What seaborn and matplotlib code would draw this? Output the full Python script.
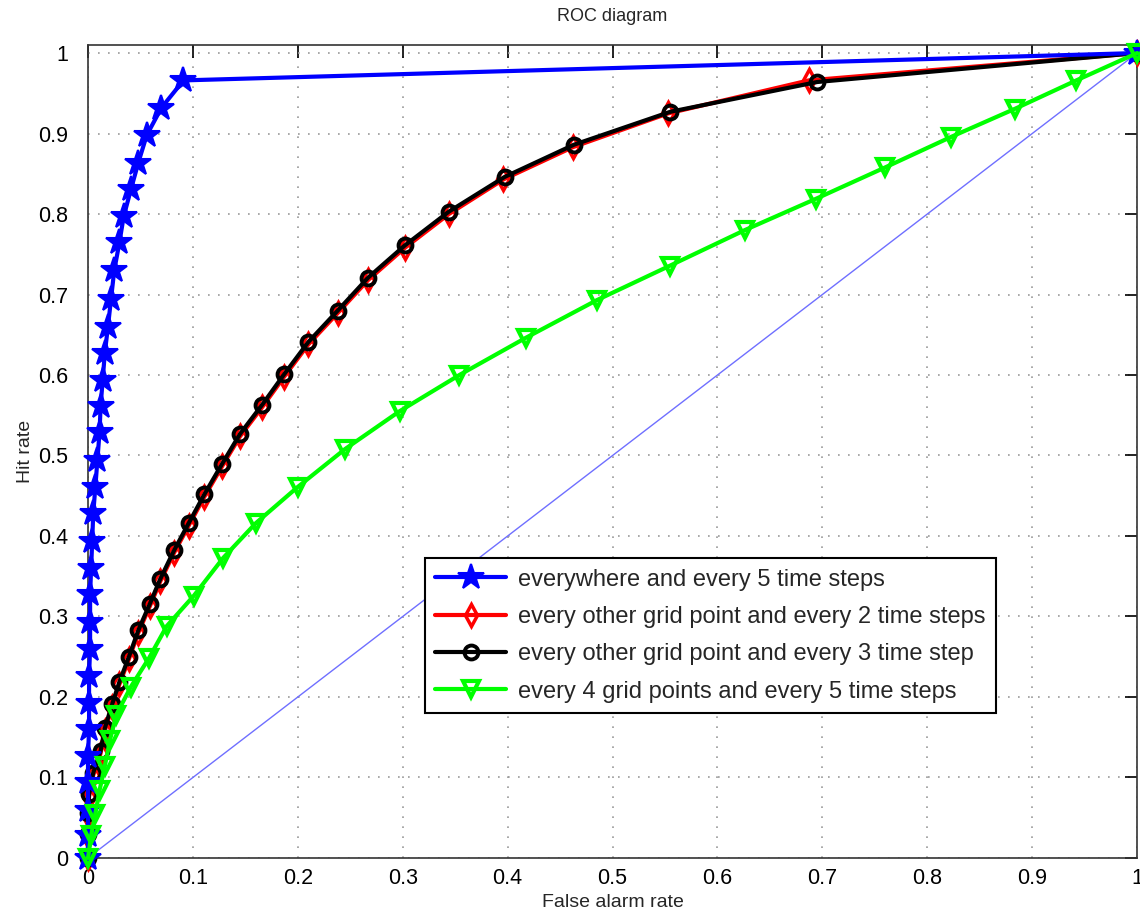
import matplotlib
matplotlib.use("Agg")
import matplotlib.pyplot as plt
import seaborn as sns
import numpy as np
import pandas as pd

# ---- data ----
blue_x = [0.0, 0.0, 0.0, 0.0, 0.0, 0.001, 0.001, 0.001, 0.002, 0.002, 0.002, 0.003,
          0.004, 0.005, 0.007, 0.009, 0.011, 0.012, 0.014, 0.016, 0.019, 0.022, 0.025,
          0.030, 0.034, 0.041, 0.048, 0.056, 0.070, 0.091, 1.0]
blue_y = [0.0, 0.029, 0.060, 0.094, 0.127, 0.160, 0.193, 0.226, 0.260, 0.293, 0.328, 0.360,
          0.394, 0.428, 0.461, 0.495, 0.529, 0.561, 0.594, 0.627, 0.660, 0.695, 0.730,
          0.765, 0.797, 0.831, 0.864, 0.898, 0.932, 0.966, 1.0]

black_x = [0.0, 0.0, 0.0, 0.001, 0.005, 0.012, 0.016, 0.023, 0.030, 0.039, 0.048, 0.059,
           0.069, 0.082, 0.096, 0.111, 0.128, 0.145, 0.166, 0.187, 0.210, 0.238, 0.267,
           0.302, 0.344, 0.397, 0.463, 0.555, 0.695, 1.0]
black_y = [0.0, 0.030, 0.056, 0.079, 0.106, 0.133, 0.161, 0.191, 0.219, 0.250, 0.283, 0.316,
           0.347, 0.382, 0.416, 0.452, 0.490, 0.527, 0.563, 0.601, 0.641, 0.680, 0.721,
           0.761, 0.803, 0.846, 0.886, 0.927, 0.964, 1.0]

red_x = [0.0, 0.0, 0.0, 0.001, 0.005, 0.012, 0.016, 0.023, 0.030, 0.039, 0.048, 0.059,
         0.069, 0.082, 0.096, 0.111, 0.128, 0.145, 0.166, 0.187, 0.210, 0.238, 0.267,
         0.302, 0.344, 0.396, 0.462, 0.553, 0.687, 1.0]
red_y = [0.0, 0.027, 0.053, 0.076, 0.103, 0.130, 0.158, 0.188, 0.216, 0.247, 0.280, 0.313,
         0.344, 0.379, 0.413, 0.449, 0.487, 0.524, 0.560, 0.598, 0.638, 0.677, 0.718,
         0.758, 0.800, 0.843, 0.883, 0.925, 0.966, 1.0]

green_x = [0.0, 0.003, 0.007, 0.011, 0.016, 0.021, 0.027, 0.041, 0.058, 0.075, 0.101,
           0.129, 0.160, 0.200, 0.245, 0.297, 0.354, 0.417, 0.485, 0.555, 0.626, 0.694,
           0.760, 0.823, 0.884, 0.942, 1.0]
green_y = [0.0, 0.028, 0.055, 0.084, 0.114, 0.147, 0.178, 0.213, 0.248, 0.288, 0.326,
           0.373, 0.416, 0.461, 0.508, 0.555, 0.600, 0.646, 0.693, 0.736, 0.780, 0.819,
           0.858, 0.896, 0.931, 0.966, 1.0]

diag_x = [0.0, 1.0]
diag_y = [0.0, 1.0]

labels = ["everywhere and every 5 time steps",
          "every other grid point and every 2 time steps",
          "every other grid point and every 3 time step",
          "every 4 grid points and every 5 time steps"]
ticks = [0.0, 0.1, 0.2, 0.3, 0.4, 0.5, 0.6, 0.7, 0.8, 0.9, 1.0]
tick_labels = ["0", "0.1", "0.2", "0.3", "0.4", "0.5", "0.6", "0.7", "0.8", "0.9", "1"]

# ---- style ----
sns.set_style("white")
plt.rcParams["font.family"] = ["Liberation Sans", "DejaVu Sans"]

fig = plt.figure(figsize=(11.4, 9.18), dpi=100)
ax = fig.add_axes([0.0772, 0.0654, 0.9203, 0.8856])

common = dict(ax=ax, sort=False, estimator=None, linewidth=3, clip_on=False)

sns.lineplot(x=blue_x, y=blue_y, color="#0000ff", marker="*", markersize=19,
             markerfacecolor="#0000ff", markeredgecolor="#0000ff", markeredgewidth=1.5,
             label=labels[0], zorder=5, **common)
sns.lineplot(x=red_x, y=red_y, color="#ff0000", marker="d", markersize=11,
             markerfacecolor="none", markeredgecolor="#ff0000", markeredgewidth=2.5,
             label=labels[1], zorder=3, **common)
sns.lineplot(x=black_x, y=black_y, color="#000000", marker="o", markersize=10,
             markerfacecolor="none", markeredgecolor="#000000", markeredgewidth=2.8,
             label=labels[2], zorder=4, **common)
sns.lineplot(x=green_x, y=green_y, color="#00ff00", marker="v", markersize=11,
             markerfacecolor="none", markeredgecolor="#00ff00", markeredgewidth=3,
             label=labels[3], zorder=6, **common)
sns.lineplot(x=diag_x, y=diag_y, color="#6f6fff", linewidth=1.0, ax=ax, sort=False,
             estimator=None, zorder=2, legend=False)

ax.set_xlim(0, 1)
ax.set_ylim(0, 1.01)
ax.set_xticks(ticks)
ax.set_xticklabels(tick_labels)
ax.set_yticks(ticks)
ax.set_yticklabels(tick_labels)
ax.tick_params(direction="in", length=9, width=1.2, top=True, right=True,
               labelsize=15.5, colors="black")
ax.tick_params(axis="x", pad=7)
ax.tick_params(axis="y", pad=14)
ax.grid(True, linestyle=(0, (1, 5)), color="#999999", linewidth=1.2)
for s in ax.spines.values():
    s.set_color("#333333")
    s.set_linewidth(1.2)

ax.set_title("ROC diagram", fontsize=13, pad=17)
ax.set_xlabel("False alarm rate", fontsize=14, labelpad=4)
ax.set_ylabel("Hit rate", fontsize=14, labelpad=3)

leg = ax.legend(loc="lower left", bbox_to_anchor=(0.321, 0.178), fontsize=17,
                frameon=True, fancybox=False, shadow=False, framealpha=1,
                edgecolor="black", handlelength=3.0, handletextpad=0.5,
                borderpad=0.45, labelspacing=0.65, borderaxespad=0)
leg.get_frame().set_linewidth(1.5)

fig.savefig("out.png", dpi=100)
